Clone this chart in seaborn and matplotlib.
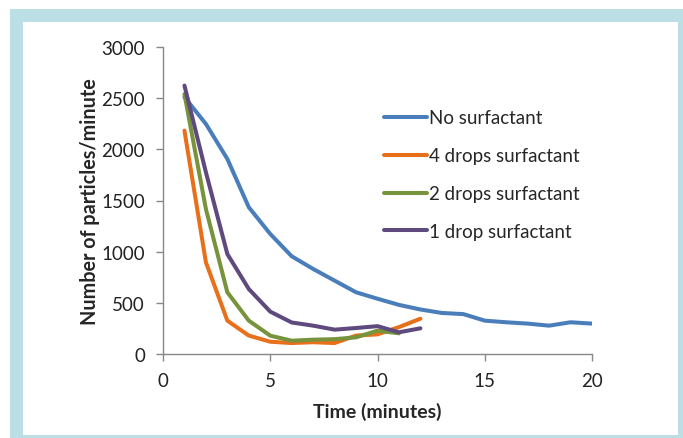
import numpy as np
import pandas as pd
import seaborn as sns
import matplotlib.pyplot as plt
from matplotlib.patches import Rectangle

# values
time_none = list(range(1, 21))
no_surfactant = [2510, 2248, 1906, 1434, 1173, 955, 831, 717, 603, 540,
                 480, 435, 401, 390, 326, 310, 297, 277, 310, 297]

time_short = list(range(1, 13))
drops_4 = [2183, 896, 326, 180, 120, 107, 115, 107, 180, 192, 263, 345]
drops_2 = [2540, 1417, 603, 326, 179, 130, 140, 145, 163, 228, 202]
drops_1 = [2623, 1776, 977, 635, 414, 308, 277, 238, 254, 272, 212, 251]

series_names = ['No surfactant', '4 drops surfactant',
                '2 drops surfactant', '1 drop surfactant']
colors = ['#4A7EBB', '#E8701A', '#77933C', '#5F4A7E']

df = pd.concat([
    pd.DataFrame({'time': time_none, 'count': no_surfactant, 'series': series_names[0]}),
    pd.DataFrame({'time': time_short, 'count': drops_4, 'series': series_names[1]}),
    pd.DataFrame({'time': time_short[:len(drops_2)], 'count': drops_2, 'series': series_names[2]}),
    pd.DataFrame({'time': time_short, 'count': drops_1, 'series': series_names[3]}),
])

sns.set_style('white')
plt.rcParams['font.family'] = ['Lato', 'DejaVu Sans']

fig = plt.figure(figsize=(6.83, 4.39), dpi=100)
W, H = 683, 439
# light blue frame around the chart area
fig.add_artist(Rectangle((10 / W, 0), 1 - 10 / W, 1 - 10 / H, transform=fig.transFigure,
                         facecolor='#BCDFE6', edgecolor='none', zorder=0))
fig.add_artist(Rectangle((23 / W, 3 / H), (678 - 23) / W, (436 - 23) / H, transform=fig.transFigure,
                         facecolor='white', edgecolor='none', zorder=0))

ax = fig.add_axes([163 / W, 1 - 355 / H, (592 - 163) / W, (355 - 48) / H])
ax.patch.set_alpha(0)

sns.lineplot(data=df, x='time', y='count', hue='series', hue_order=series_names,
             palette=colors, linewidth=2.9, ax=ax, estimator=None, sort=False)

ax.set_xlim(0, 20)
ax.set_ylim(0, 3000)
ax.set_xticks(np.arange(0, 21, 5))
ax.set_yticks(np.arange(0, 3001, 500))
ax.tick_params(axis='both', labelsize=13.5, colors='#222222', length=5, width=1,
               direction='out', color='#888888')
ax.tick_params(axis='x', pad=8)
ax.tick_params(axis='y', pad=8)
ax.tick_params(bottom=True, left=True)
for s in ['top', 'right']:
    ax.spines[s].set_visible(False)
for s in ['left', 'bottom']:
    ax.spines[s].set_color('#888888')
    ax.spines[s].set_linewidth(1)

ax.set_xlabel('Time (minutes)', fontsize=14, fontweight='bold', labelpad=9)
ax.set_ylabel('Number of particles/minute', fontsize=14.2, fontweight='bold', labelpad=1)

ax.legend(loc='upper left', bbox_to_anchor=((376 - 163) / (592 - 163), 1 - (103 - 48) / (355 - 48)),
          frameon=False, fontsize=13.5, handlelength=2.3, handletextpad=0.15,
          labelspacing=1.11, borderaxespad=0)

fig.savefig('out.png', dpi=100)
